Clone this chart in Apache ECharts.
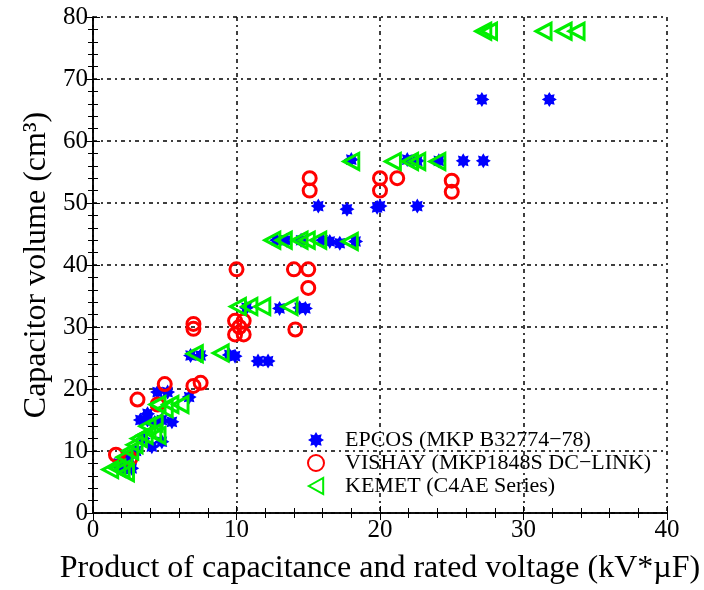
<!DOCTYPE html>
<html><head><meta charset="utf-8">
<script src="https://cdn.jsdelivr.net/npm/echarts@6/dist/echarts.min.js"></script>
<style>html,body{margin:0;padding:0;background:#fff}#c{width:704px;height:590px}</style>
</head><body><div id="c"></div>
<script>
const seriesNames = ['EPCOS (MKP B32774\u221278)', 'VISHAY (MKP1848S DC\u2212LINK)', 'KEMET (C4AE Series)'];
const xTicks = [0, 10, 20, 30, 40];
const yTicks = [0, 10, 20, 30, 40, 50, 60, 70, 80];
const epcos = [[1.8,8],[2.2,7],[2.7,7.2],[2.5,9],[3,10],[3.5,12],[4.1,10.7],[4.8,11.5],[3.3,15],[3.8,15],[4.3,14.6],[4.8,15],[5.5,14.7],[3.8,16],[4.5,19.5],[5.2,19.5],[6.7,18.7],[6.8,25.4],[7.5,25.4],[9.5,25.5],[9.9,25.3],[11.5,24.5],[12.2,24.5],[10.7,33.1],[13,33],[14.4,33.1],[14.8,33],[12.8,44],[13.5,44],[14.5,44],[16,44],[16.5,43.8],[17.2,43.5],[18.3,43.8],[15.7,49.5],[17.7,49],[20,49.5],[19.8,49.3],[22.6,49.5],[18,57],[21.9,57],[22.6,56.8],[24.1,56.8],[25.8,56.8],[27.2,56.8],[27.1,66.7],[31.8,66.7]];
const vishay = [[1.6,9.4],[2.6,8.8],[3.1,18.3],[4.5,17.5],[5,20.8],[7,20.5],[7.5,21],[7,29.7],[7,30.5],[9.9,31],[10.5,31],[9.9,28.8],[10.5,28.8],[10.2,30],[14.1,29.6],[10,39.3],[14,39.3],[15,39.3],[15,36.3],[15.1,54],[15.1,52],[20,54],[20,52],[21.2,54],[25,53.6],[25,51.8]];
const kemet = [[1.2,7],[1.7,7.2],[2,7],[2.3,6.5],[2.2,9],[2.6,10],[2.9,11],[3.2,12],[3.6,12.5],[4.2,13],[4.5,12.5],[3.8,14],[4.3,14.5],[5,16.8],[4.5,17.5],[5.4,17.5],[6.1,17.5],[7.1,25.7],[8.9,25.8],[10.1,33.3],[10.9,33.3],[11.8,33.3],[13.7,33.3],[12.5,44],[13.3,44],[14.4,44],[14.9,44],[15.7,44],[17.9,43.8],[18,56.7],[20.9,56.7],[22.1,56.7],[22.6,56.7],[24,56.7],[27.2,77.7],[27.6,77.7],[31.4,77.7],[32.8,77.7],[33.7,77.7]];

function starPath(n, r1, r2) {
  let s = '';
  for (let i = 0; i < 2 * n; i++) {
    const r = i % 2 === 0 ? r1 : r2;
    const a = Math.PI * i / n - Math.PI / 2;
    s += (i === 0 ? 'M' : 'L') + (50 + r * Math.cos(a)).toFixed(2) + ' ' + (50 + r * Math.sin(a)).toFixed(2) + ' ';
  }
  return 'path://' + s + 'Z';
}
const asterisk = starPath(8, 50, 32);
const leftTri = 'path://M0 50 L90 0 L90 100 Z';

const font = 'Liberation Serif, Times New Roman, serif';
const gridLine = {show: true, lineStyle: {color: '#000', width: 1.5, type: [4, 4, 2, 4]}};
const chart = echarts.init(document.getElementById('c'), null, {renderer: 'canvas'});
chart.setOption({
  animation: false,
  backgroundColor: '#fff',
  grid: {left: 93, right: 37, top: 17, bottom: 73},
  legend: {
    orient: 'vertical', left: 302, top: 424, itemGap: 1, itemWidth: 16, itemHeight: 16,
    textStyle: {fontFamily: font, fontSize: 22, color: '#000', padding: [0, 0, 0, 16]},
    data: [{name: seriesNames[0], icon: asterisk}, {name: seriesNames[1], icon: 'circle'}, {name: seriesNames[2], icon: leftTri}]
  },
  xAxis: [{
    type: 'value', min: 0, max: 40, interval: 10,
    name: 'Product of capacitance and rated voltage (kV*\u00b5F)', nameLocation: 'middle', nameGap: 40,
    nameTextStyle: {fontFamily: font, fontSize: 32, color: '#000'},
    axisLine: {lineStyle: {color: '#000', width: 1.5}},
    axisTick: {inside: true, length: 7, lineStyle: {color: '#000'}},
    minorTick: {show: true, splitNumber: 5, length: 5, lineStyle: {color: '#000'}},
    axisLabel: {fontFamily: font, fontSize: 25, color: '#000', margin: 5, formatter: v => xTicks.includes(v) ? String(v) : ''},
    splitLine: gridLine
  }, {
    type: 'value', min: 0, max: 40, interval: 10, position: 'top',
    axisLine: {show: true, lineStyle: {color: '#000', width: 1.5}},
    axisTick: {show: true, inside: true, length: 7, lineStyle: {color: '#000'}},
    minorTick: {show: true, splitNumber: 5, length: 5, lineStyle: {color: '#000'}},
    axisLabel: {show: false}, splitLine: {show: false}
  }],
  yAxis: [{
    type: 'value', min: 0, max: 80, interval: 10,
    name: 'Capacitor volume (cm\u00b3)', nameLocation: 'middle', nameGap: 40,
    nameTextStyle: {fontFamily: font, fontSize: 32, color: '#000'},
    axisLine: {show: true, lineStyle: {color: '#000', width: 1.5}},
    axisTick: {show: true, inside: true, length: 7, lineStyle: {color: '#000'}},
    minorTick: {show: true, splitNumber: 5, length: 5, lineStyle: {color: '#000'}},
    axisLabel: {fontFamily: font, fontSize: 25, color: '#000', margin: 5, formatter: v => yTicks.includes(v) ? String(v) : ''},
    splitLine: gridLine
  }, {
    type: 'value', min: 0, max: 80, interval: 10, position: 'right',
    axisLine: {show: true, lineStyle: {color: '#000', width: 1.5}},
    axisTick: {show: true, inside: true, length: 7, lineStyle: {color: '#000'}},
    minorTick: {show: true, splitNumber: 5, length: 5, lineStyle: {color: '#000'}},
    axisLabel: {show: false}, splitLine: {show: false}
  }],
  series: [{
    name: seriesNames[0], type: 'scatter', data: epcos, symbol: asterisk, symbolSize: 15,
    itemStyle: {color: '#0000ff', opacity: 1}
  }, {
    name: seriesNames[1], type: 'scatter', data: vishay, symbol: 'circle', symbolSize: 13,
    itemStyle: {color: 'rgba(255,255,255,0)', borderColor: '#ff0000', borderWidth: 3, opacity: 1}
  }, {
    name: seriesNames[2], type: 'scatter', data: kemet, symbol: leftTri, symbolSize: [15, 16],
    itemStyle: {color: 'rgba(255,255,255,0)', borderColor: '#00ee00', borderWidth: 3, opacity: 1}
  }]
});
</script></body></html>
